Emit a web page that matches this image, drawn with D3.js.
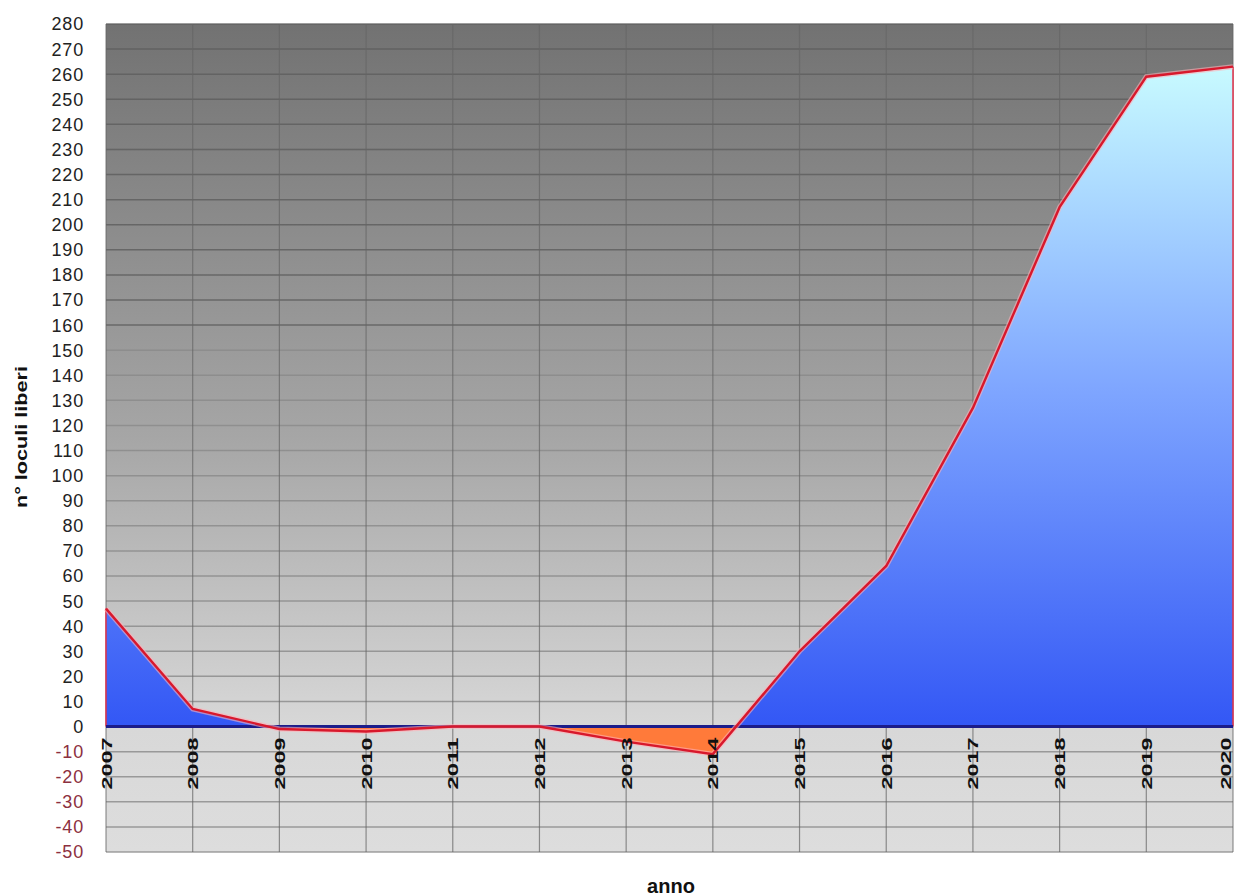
<!DOCTYPE html>
<html>
<head>
<meta charset="utf-8">
<script src="https://cdn.jsdelivr.net/npm/d3@7"></script>
<style>
  html, body { margin: 0; padding: 0; background: #fff; }
  svg { display: block; font-family: Arial, "Liberation Sans", sans-serif; }
</style>
</head>
<body>
<svg id="chart" width="1235" height="896"></svg>
<script>
const years = [2007, 2008, 2009, 2010, 2011, 2012, 2013, 2014, 2015, 2016, 2017, 2018, 2019, 2020];
const loculi = [47, 7, -1, -2, 0, 0, -6, -11, 30, 64, 127, 207, 259, 263];
const yTicks = d3.range(-50, 281, 10);

const W = 1235, H = 896;
const margin = { left: 106, right: 2, top: 24, bottom: 44 };

const svg = d3.select('#chart');
const defs = svg.append('defs');

const x = d3.scaleLinear()
    .domain([years[0], years[years.length - 1]])
    .range([margin.left, W - margin.right]);
const y = d3.scaleLinear()
    .domain([-50, 280])
    .range([H - margin.bottom, margin.top]);

// background gradient of plot area
const bg = defs.append('linearGradient')
    .attr('id', 'bg').attr('x1', 0).attr('y1', 0).attr('x2', 0).attr('y2', 1);
bg.append('stop').attr('offset', '0%').attr('stop-color', '#727272');
bg.append('stop').attr('offset', '50%').attr('stop-color', '#a6a6a6');
bg.append('stop').attr('offset', '85%').attr('stop-color', '#d8d8d8');
bg.append('stop').attr('offset', '100%').attr('stop-color', '#dddddd');

const posGrad = defs.append('linearGradient')
    .attr('id', 'pos').attr('gradientUnits', 'userSpaceOnUse')
    .attr('x1', 0).attr('x2', 0).attr('y1', y(0)).attr('y2', y(270));
posGrad.append('stop').attr('offset', '0%').attr('stop-color', '#3357f5');
posGrad.append('stop').attr('offset', '50%').attr('stop-color', '#7fa6ff');
posGrad.append('stop').attr('offset', '100%').attr('stop-color', '#ccffff');

defs.append('clipPath').attr('id', 'clipPos')
    .append('rect').attr('x', margin.left).attr('y', margin.top)
    .attr('width', W - margin.left - margin.right).attr('height', y(0) - margin.top);
defs.append('clipPath').attr('id', 'clipNeg')
    .append('rect').attr('x', margin.left).attr('y', y(0))
    .attr('width', W - margin.left - margin.right).attr('height', y(-50) - y(0));

svg.append('rect')
    .attr('x', margin.left).attr('y', margin.top)
    .attr('width', W - margin.left - margin.right)
    .attr('height', y(-50) - margin.top)
    .attr('fill', 'url(#bg)');

// horizontal grid
svg.append('g')
    .selectAll('line')
    .data(yTicks)
    .enter().append('line')
    .attr('x1', margin.left).attr('x2', W - margin.right)
    .attr('y1', d => y(d)).attr('y2', d => y(d))
    .attr('stroke', d => d > 150 ? '#5e5e5e' : '#8a8a8a')
    .attr('stroke-width', 1.5)
    .attr('opacity', 0.8);

// vertical grid
svg.append('g')
    .selectAll('line')
    .data(years)
    .enter().append('line')
    .attr('x1', d => x(d)).attr('x2', d => x(d))
    .attr('y1', margin.top).attr('y2', y(-50))
    .attr('stroke', '#666')
    .attr('stroke-width', 1.2)
    .attr('opacity', 0.7);

const pts = years.map((yr, i) => [yr, loculi[i]]);
const area = d3.area()
    .x(d => x(d[0]))
    .y0(y(0))
    .y1(d => y(d[1]));
const line = d3.line()
    .x(d => x(d[0]))
    .y(d => y(d[1]));

svg.append('path')
    .datum(pts)
    .attr('d', area)
    .attr('fill', 'url(#pos)')
    .attr('clip-path', 'url(#clipPos)');
svg.append('path')
    .datum(pts)
    .attr('d', area)
    .attr('fill', '#ff7a3a')
    .attr('clip-path', 'url(#clipNeg)');

// area edges at the left and right ends
[pts[0], pts[pts.length - 1]].forEach(p => {
    svg.append('line')
        .attr('x1', x(p[0])).attr('x2', x(p[0]))
        .attr('y1', y(0)).attr('y2', y(p[1]))
        .attr('stroke', '#e0304a')
        .attr('stroke-width', 1.5);
});

// zero line
svg.append('line')
    .attr('x1', margin.left).attr('x2', W - margin.right)
    .attr('y1', y(0)).attr('y2', y(0))
    .attr('stroke', '#1c1c8a')
    .attr('stroke-width', 3);

svg.append('path')
    .datum(pts)
    .attr('d', line)
    .attr('fill', 'none')
    .attr('stroke', '#ffb0b8')
    .attr('stroke-width', 5)
    .attr('opacity', 0.6);
svg.append('path')
    .datum(pts)
    .attr('d', line)
    .attr('fill', 'none')
    .attr('stroke', '#d8182c')
    .attr('stroke-width', 2.4);

// y tick labels
svg.append('g')
    .selectAll('text')
    .data(yTicks)
    .enter().append('text')
    .attr('x', 84)
    .attr('y', d => y(d))
    .attr('dy', '0.36em')
    .attr('text-anchor', 'end')
    .attr('font-size', 18)
    .attr('letter-spacing', 0.8)
    .attr('fill', d => d < 0 ? '#8c3040' : '#222')
    .text(d => d);

// x tick labels, rotated (last one nudged in so it is not cut)
svg.append('g')
    .selectAll('text')
    .data(years)
    .enter().append('text')
    .attr('transform', d => `translate(${Math.min(x(d) + 5.5, W - 4)},${y(0) + 11}) rotate(-90)`)
    .attr('text-anchor', 'end')
    .attr('font-size', 15)
    .attr('font-weight', 'bold')
    .attr('textLength', 52)
    .attr('lengthAdjust', 'spacingAndGlyphs')
    .attr('fill', '#111')
    .text(d => d);

// axis titles
svg.append('text')
    .attr('transform', `translate(27,437) rotate(-90)`)
    .attr('text-anchor', 'middle')
    .attr('font-size', 16)
    .attr('font-weight', 'bold')
    .attr('textLength', 142)
    .attr('lengthAdjust', 'spacingAndGlyphs')
    .attr('fill', '#111')
    .text('n° loculi liberi');

svg.append('text')
    .attr('x', 671)
    .attr('y', 893)
    .attr('text-anchor', 'middle')
    .attr('font-size', 20)
    .attr('font-weight', 'bold')
    .attr('fill', '#111')
    .text('anno');
</script>
</body>
</html>
